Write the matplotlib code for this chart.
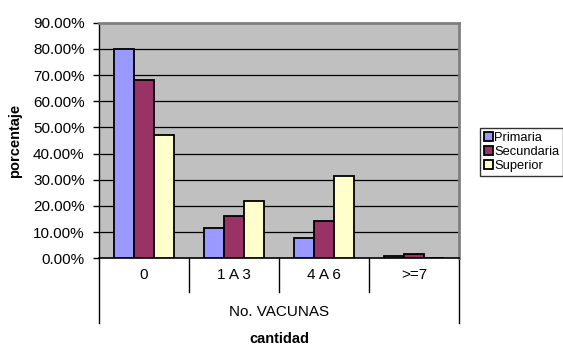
import numpy as np
import matplotlib

matplotlib.use("Agg")
import matplotlib.pyplot as plt
from matplotlib.transforms import blended_transform_factory

plt.rcParams["font.family"] = ["Liberation Sans", "DejaVu Sans"]

categories = ["0", "1 A 3", "4 A 6", ">=7"]
series = ["Primaria", "Secundaria", "Superior"]
primaria = [80.0, 11.4, 7.6, 0.8]
secundaria = [68.0, 16.3, 14.2, 1.6]
superior = [47.0, 21.8, 31.4, 0.0]
yticks = [0, 10, 20, 30, 40, 50, 60, 70, 80, 90]

colors = ["#9999FF", "#993366", "#FFFFCC"]

W, H = 563, 345
fig = plt.figure(figsize=(W / 100, H / 100), dpi=100, facecolor="white")
# plot area in pixel coordinates
x0, x1, ytop, ybot = 98.5, 459, 22.7, 258.3
ax = fig.add_axes([x0 / W, 1 - ybot / H, (x1 - x0) / W, (ybot - ytop) / H])
ax.set_facecolor("#C0C0C0")

x = np.arange(len(categories))
bw = 0.222
for i, (vals, name) in enumerate(zip([primaria, secundaria, superior], series)):
    ax.bar(x + (i - 1) * bw, vals, bw, color=colors[i], edgecolor="black",
           linewidth=1.3, label=name, zorder=3)

ax.set_xlim(-0.5, len(categories) - 0.5)
ax.set_ylim(0, 90)
ax.set_yticks(yticks)
ax.set_yticklabels([f"{v:.2f}%" for v in yticks], fontsize=11)
for v in yticks[1:-1]:
    ax.axhline(v, color="black", lw=0.9, zorder=1)
ax.tick_params(axis="y", direction="out", length=4, width=1, pad=6)
ax.set_xticks([])

for side in ("top", "right"):
    ax.spines[side].set_color("#808080")
    ax.spines[side].set_linewidth(2)
ax.spines["left"].set_linewidth(1)
ax.spines["bottom"].set_linewidth(1.2)

# category table under the axis
tr = blended_transform_factory(ax.transData, ax.transAxes)
ah = ybot - ytop
y_cat = -(291.7 - ybot) / ah
y_out = -(322.5 - ybot) / ah
for k in range(len(categories) + 1):
    yb = y_out if k in (0, len(categories)) else y_cat
    ax.plot([k - 0.5, k - 0.5], [0, yb], color="black", lw=1,
            transform=tr, clip_on=False)
for k, c in enumerate(categories):
    ax.text(k, -(275 - ybot) / ah, c, transform=tr, ha="center", va="center",
            fontsize=11)
ax.text(1.5, -(311.5 - ybot) / ah, "No. VACUNAS", transform=tr,
        ha="center", va="center", fontsize=11)

fig.text(279 / W, 1 - 339 / H, "cantidad", ha="center", va="center",
         fontsize=10.5, fontweight="bold")
fig.text(15 / W, 1 - 141 / H, "porcentaje", ha="center", va="center",
         rotation=90, fontsize=10.5, fontweight="bold")

leg = fig.legend(loc="upper left", bbox_to_anchor=(480 / W, 1 - 128 / H),
                 fontsize=9.3, frameon=True, fancybox=False, borderpad=0.3,
                 handlelength=0.7, handleheight=0.7, handletextpad=0.12,
                 labelspacing=0.15, borderaxespad=0)
leg.get_frame().set_edgecolor("black")
leg.get_frame().set_linewidth(1)

fig.savefig("out.png", dpi=100)
